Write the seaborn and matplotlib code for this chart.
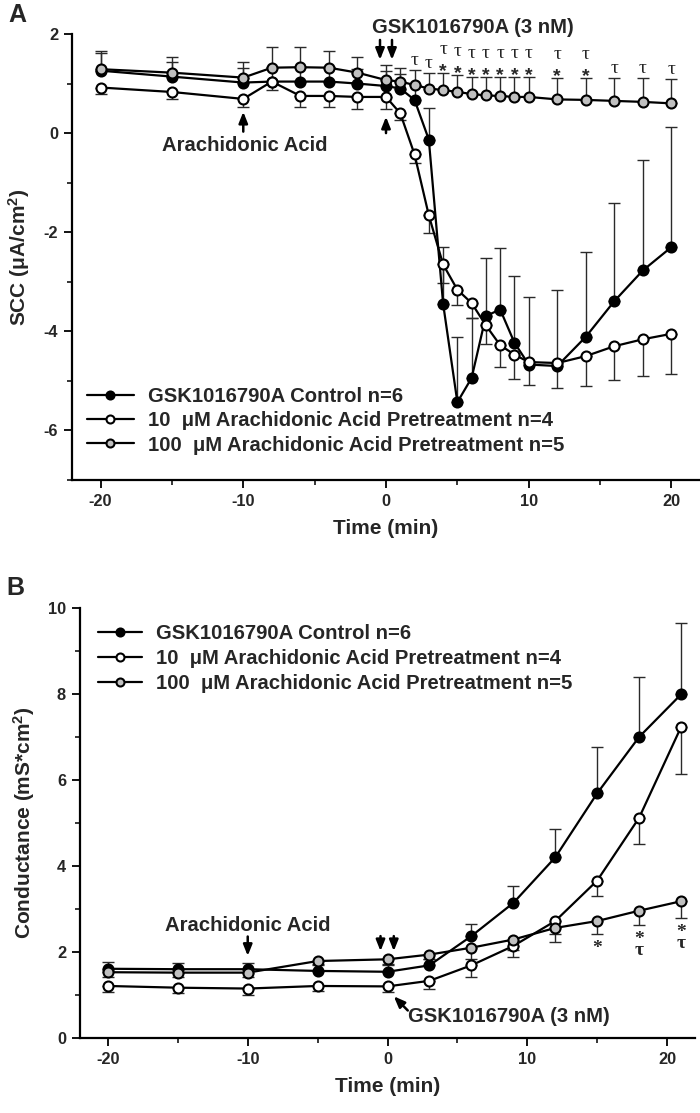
import numpy as np
import pandas as pd
import matplotlib
matplotlib.use("Agg")
import matplotlib.pyplot as plt
import seaborn as sns
from matplotlib.ticker import MultipleLocator

# ---------------- data ----------------
labels = ["GSK1016790A Control n=6",
          "10  \u03bcM Arachidonic Acid Pretreatment n=4",
          "100  \u03bcM Arachidonic Acid Pretreatment n=5"]

# Panel A : short-circuit current
time_a = [-20, -15, -10, -8, -6, -4, -2, 0, 1, 2, 3, 4, 5, 6, 7, 8, 9, 10, 12, 14, 16, 18, 20]
scc_ctrl = [1.26, 1.14, 1.02, 1.04, 1.04, 1.04, 1.00, 0.95, 0.90, 0.67, -0.13, -3.44, -5.43,
            -4.94, -3.69, -3.56, -4.23, -4.67, -4.70, -4.11, -3.39, -2.77, -2.30]
scc_ctrl_err = [0.35, 0.30, 0.30, 0.30, 0.30, 0.30, 0.30, 0.30, 0.30, 0.30, 0.63, 1.14, 1.32,
                1.20, 1.17, 1.25, 1.34, 1.37, 1.53, 1.71, 1.98, 2.22, 2.42]
scc_10 = [0.92, 0.83, 0.69, 1.04, 0.75, 0.75, 0.73, 0.73, 0.40, -0.43, -1.66, -2.65, -3.16,
          -3.43, -3.88, -4.28, -4.47, -4.62, -4.64, -4.50, -4.30, -4.16, -4.05]
scc_10_err = [0.13, 0.15, 0.16, 0.18, 0.23, 0.23, 0.25, 0.25, 0.14, 0.17, 0.35, 0.37, 0.31,
              0.30, 0.37, 0.44, 0.49, 0.47, 0.50, 0.61, 0.69, 0.74, 0.82]
scc_100 = [1.29, 1.22, 1.12, 1.32, 1.33, 1.32, 1.22, 1.07, 1.04, 0.97, 0.90, 0.87, 0.83,
           0.79, 0.76, 0.75, 0.73, 0.73, 0.68, 0.67, 0.65, 0.63, 0.60]
scc_100_err = [0.37, 0.32, 0.32, 0.42, 0.41, 0.34, 0.31, 0.30, 0.27, 0.30, 0.32, 0.34, 0.34,
               0.35, 0.38, 0.39, 0.41, 0.41, 0.44, 0.45, 0.47, 0.49, 0.50]
tau_a = [2, 3, 4, 5, 6, 7, 8, 9, 10, 12, 14, 16, 18, 20]
star_a = [4, 5, 6, 7, 8, 9, 10, 12, 14]

# Panel B : conductance
time_b = [-20, -15, -10, -5, 0, 3, 6, 9, 12, 15, 18, 21]
g_ctrl = [1.61, 1.60, 1.60, 1.56, 1.54, 1.69, 2.37, 3.14, 4.20, 5.69, 7.00, 7.99]
g_ctrl_err = [0.16, 0.15, 0.15, 0.15, 0.15, 0.15, 0.27, 0.40, 0.65, 1.08, 1.39, 1.65]
g_10 = [1.21, 1.17, 1.15, 1.21, 1.20, 1.33, 1.69, 2.14, 2.72, 3.66, 5.12, 7.23]
g_10_err = [0.15, 0.13, 0.14, 0.12, 0.14, 0.20, 0.26, 0.25, 0.30, 0.35, 0.61, 1.08]
g_100 = [1.53, 1.52, 1.52, 1.79, 1.83, 1.94, 2.10, 2.29, 2.56, 2.72, 2.96, 3.18]
g_100_err = [0.10, 0.10, 0.10, 0.10, 0.10, 0.10, 0.27, 0.25, 0.32, 0.31, 0.34, 0.39]
star_b = [15, 18, 21]
tau_b = [18, 21]

# ---------------- style ----------------
sns.set_theme(style="ticks")
plt.rcParams["font.family"] = ["Liberation Sans", "DejaVu Sans"]
plt.rcParams["font.weight"] = "bold"
plt.rcParams["axes.labelweight"] = "bold"
plt.rcParams["axes.unicode_minus"] = False
plt.rcParams["mathtext.fontset"] = "custom"
plt.rcParams["mathtext.bf"] = "Liberation Sans:bold"
plt.rcParams["mathtext.rm"] = "Liberation Sans:bold"
plt.rcParams["mathtext.default"] = "bf"

FS_TICK = 11.8
FS_LAB = 15
FS_TXT = 14.6
SERIF = ["Liberation Serif", "DejaVu Serif"]
faces = ["black", "white", "#c0c0c0"]
MS = 7.2
MEW = 1.5
LW = 1.6

fig = plt.figure(figsize=(7.0, 11.13), dpi=100)
W, H = 700.0, 1113.0
axA = fig.add_axes([72 / W, 1 - 480 / H, 628 / W, 446 / H])
axB = fig.add_axes([80 / W, 1 - 1038 / H, 615 / W, 430 / H])


def draw_series(ax, t, series, errs, dirs):
    for i, (vals, err, d) in enumerate(zip(series, errs, dirs)):
        z = np.zeros(len(err))
        yerr = [z, err] if d == "up" else [err, z]
        ax.errorbar(t, vals, yerr=yerr, fmt="none", ecolor="#2a2a2a", elinewidth=1.0,
                    capsize=4.3, capthick=1.0, zorder=2 + i * 0.1)
    for i, vals in enumerate(series):
        sns.lineplot(x=t, y=vals, ax=ax, color="black", linewidth=LW, marker="o",
                     markersize=MS, markerfacecolor=faces[i], markeredgecolor="black",
                     markeredgewidth=MEW, label=labels[i], zorder=3 + i * 0.1)


def style_axes(ax, ylim, ymaj, ymin_):
    ax.set_xlim(-22, 22)
    ax.set_ylim(*ylim)
    sns.despine(ax=ax)
    for s in ["left", "bottom"]:
        ax.spines[s].set_linewidth(1.6)
        ax.spines[s].set_color("black")
    ax.xaxis.set_major_locator(MultipleLocator(10))
    ax.xaxis.set_minor_locator(MultipleLocator(5))
    ax.yaxis.set_major_locator(MultipleLocator(ymaj))
    ax.yaxis.set_minor_locator(MultipleLocator(ymin_))
    ax.tick_params(which="major", direction="out", length=6, width=1.3, labelsize=FS_TICK,
                   color="black", pad=4)
    ax.tick_params(which="minor", direction="out", length=3.5, width=1.1, color="black")
    ax.tick_params(which="both", bottom=True, left=True)
    for lab in ax.get_xticklabels() + ax.get_yticklabels():
        lab.set_fontweight("bold")
    ax.set_xlabel("Time (min)", fontsize=FS_LAB, fontweight="bold", labelpad=7)
    ax.grid(False)


def arrow(ax, tail, head):
    ax.annotate("", xy=head, xytext=tail,
                arrowprops=dict(arrowstyle="-|>,head_length=0.55,head_width=0.22",
                                lw=1.8, color="black", shrinkA=0, shrinkB=0),
                annotation_clip=False)


# ---------------- Panel A ----------------
draw_series(axA, time_a, [scc_ctrl, scc_10, scc_100], [scc_ctrl_err, scc_10_err, scc_100_err],
            ["up", "down", "up"])
style_axes(axA, (-7, 2), 2, 1)
axA.set_yticks([-6, -4, -2, 0, 2])
axA.set_ylabel("SCC (\u03bcA/cm$^{2}$)", fontsize=FS_LAB, fontweight="bold", labelpad=8)

axA.text(-9.9, -0.26, "Arachidonic Acid", ha="center", va="center", fontsize=FS_TXT,
         fontweight="bold")
arrow(axA, (-10, 0.03), (-10, 0.43))
arrow(axA, (0, 0.0), (0, 0.33))
arrow(axA, (-0.42, 1.88), (-0.42, 1.48))
arrow(axA, (0.42, 1.88), (0.42, 1.48))
axA.text(-0.95, 2.14, "GSK1016790A (3 nM)", ha="left", va="center", fontsize=FS_TXT,
         fontweight="bold", clip_on=False)

for x in tau_a:
    i = time_a.index(x)
    cap = scc_100[i] + scc_100_err[i]
    if x in star_a:
        axA.annotate("*", xy=(x, cap), xytext=(0, -3), textcoords="offset pixels",
                     ha="center", va="baseline", fontsize=14, fontweight="bold")
        axA.annotate("\u03c4", xy=(x, cap), xytext=(0, 19), textcoords="offset pixels",
                     ha="center", va="baseline", fontsize=14, family=SERIF,
                     fontweight="normal")
    else:
        axA.annotate("\u03c4", xy=(x, cap), xytext=(0, 5), textcoords="offset pixels",
                     ha="center", va="baseline", fontsize=14, family=SERIF,
                     fontweight="normal")

axA.legend(loc="upper left", bbox_to_anchor=(0.024, 0.2085), frameon=False,
           borderpad=0, borderaxespad=0, handlelength=2.3, handletextpad=0.7,
           labelspacing=0.26, markerscale=0.8, prop=dict(size=FS_TXT, weight="bold"))

# ---------------- Panel B ----------------
draw_series(axB, time_b, [g_ctrl, g_10, g_100], [g_ctrl_err, g_10_err, g_100_err],
            ["up", "down", "down"])
style_axes(axB, (0, 10), 2, 1)
axB.set_ylabel("Conductance (mS*cm$^{2}$)", fontsize=FS_LAB, fontweight="bold", labelpad=8)

axB.text(-10, 2.62, "Arachidonic Acid", ha="center", va="center", fontsize=FS_TXT,
         fontweight="bold")
arrow(axB, (-10, 2.36), (-10, 1.91))
arrow(axB, (-0.5, 2.37), (-0.5, 2.02))
arrow(axB, (0.45, 2.37), (0.45, 2.02))
axB.text(1.5, 0.49, "GSK1016790A (3 nM)", ha="left", va="center", fontsize=FS_TXT,
         fontweight="bold")
arrow(axB, (1.45, 0.64), (0.45, 0.97))

for x in star_b:
    i = time_b.index(x)
    cap = g_100[i] - g_100_err[i]
    txt = "*\n\u03c4" if x in tau_b else "*"
    axB.annotate(txt, xy=(x, cap), xytext=(0, -6), textcoords="offset pixels",
                 ha="center", va="top", fontsize=14, family=SERIF, fontweight="bold",
                 linespacing=0.55, multialignment="center")

axB.legend(loc="upper left", bbox_to_anchor=(0.029, 0.963), frameon=False,
           borderpad=0, borderaxespad=0, handlelength=2.2, handletextpad=0.65,
           labelspacing=0.3, markerscale=0.8, prop=dict(size=FS_TXT, weight="bold"))

fig.text(17 / W, 1 - 15 / H, "A", fontsize=18, fontweight="bold", ha="center", va="center")
fig.text(15 / W, 1 - 588 / H, "B", fontsize=18, fontweight="bold", ha="center", va="center")

fig.savefig("out.png", dpi=100, facecolor="white")
